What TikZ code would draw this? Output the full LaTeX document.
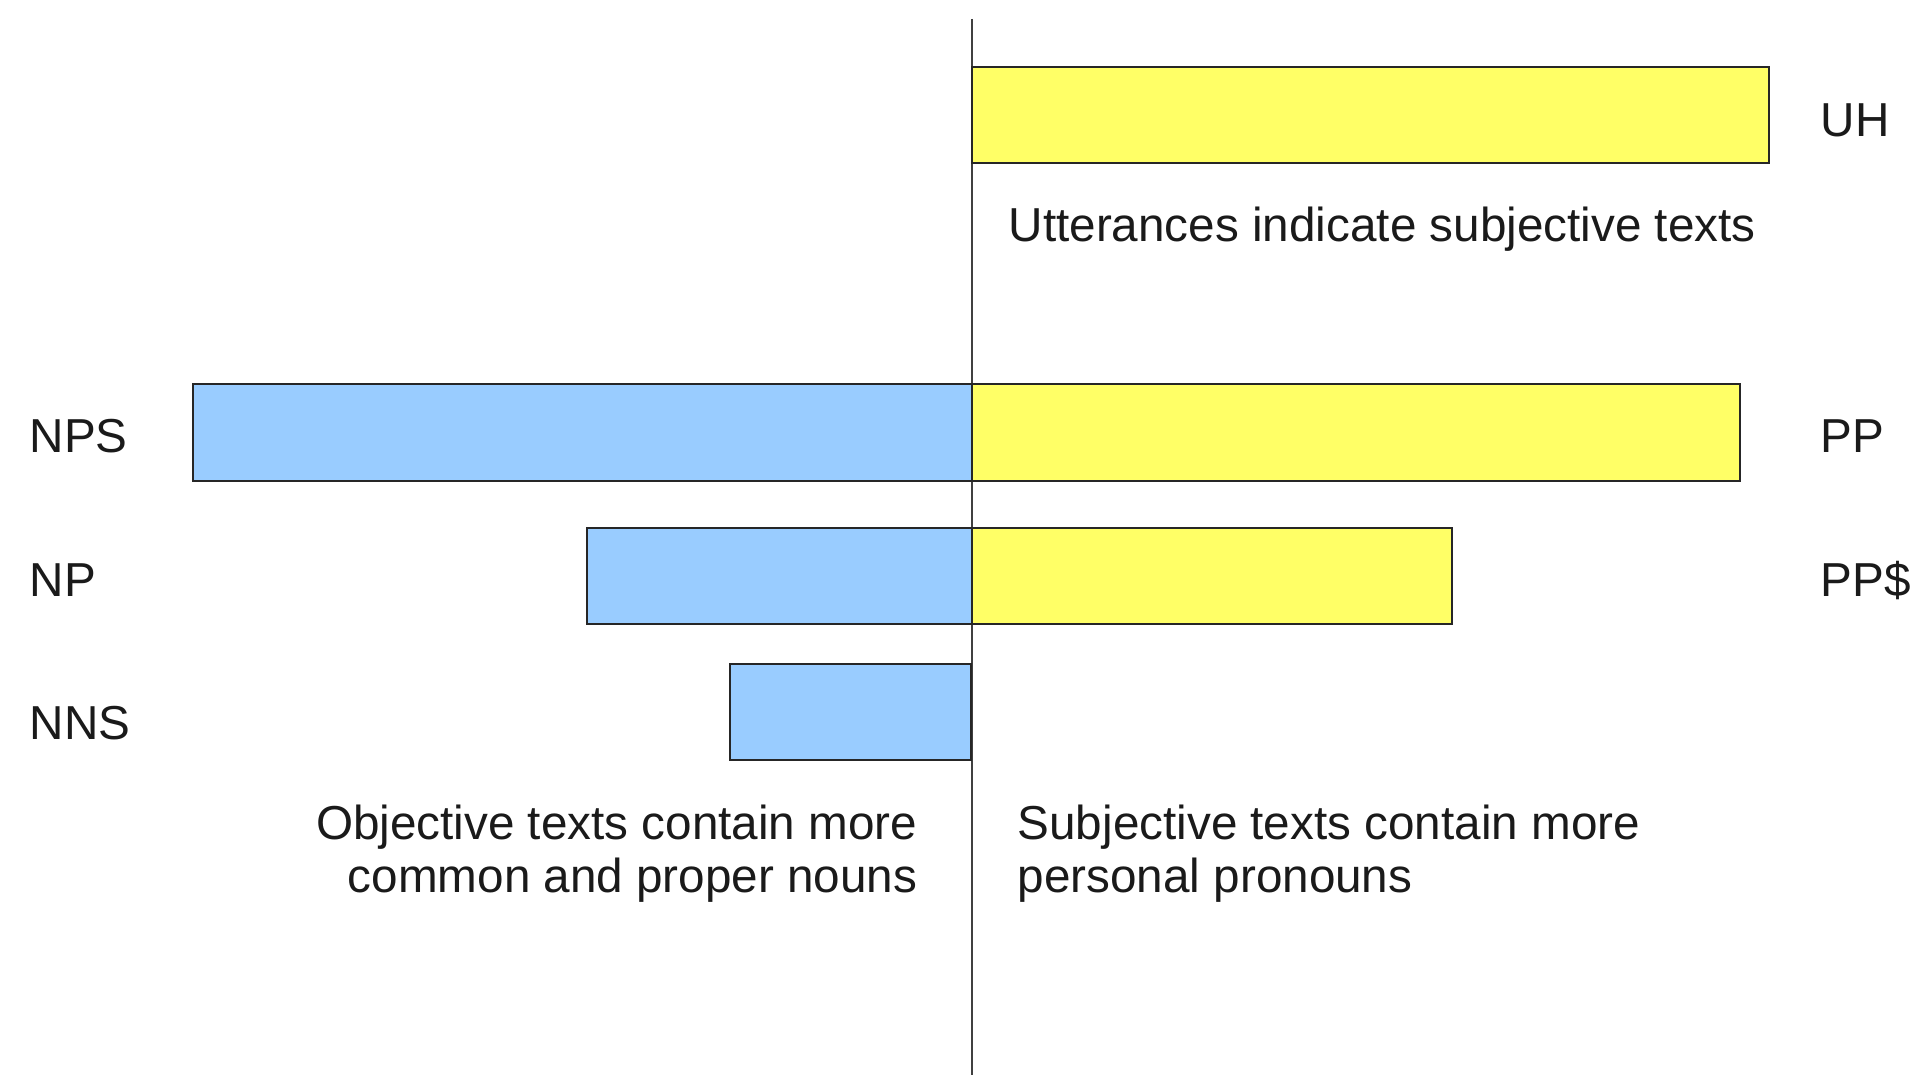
\documentclass[tikz,border=0pt]{standalone}
\usepackage{fontspec}
\setmainfont{Liberation Sans}
\usepackage{xcolor}
\usetikzlibrary{positioning}
\definecolor{nounblue}{RGB}{153,204,255}
\definecolor{pronyellow}{RGB}{255,255,102}
\definecolor{inkgrey}{RGB}{26,26,26}
\newcommand{\tagfont}{\fontsize{13.55}{14.9}\selectfont}
\tikzset{
  nounbar/.style={draw=black!85,fill=nounblue,line width=0.4pt},
  pronbar/.style={draw=black!85,fill=pronyellow,line width=0.4pt},
  taglabel/.style={inner sep=0pt,font=\tagfont,text=inkgrey,anchor=base west},
  notetext/.style={inner sep=0pt,font=\tagfont,text=inkgrey},
  axisline/.style={draw=black!75,line width=0.35pt}
}
\begin{document}
\begin{tikzpicture}[x=0.01cm,y=-0.01cm]
  \useasboundingbox (0,0) rectangle (1928,1080);
  \coordinate (axistop) at (972,19);
  \coordinate (axisbottom) at (972,1075);
  \draw[axisline] (axistop)--(axisbottom);
  % subjective side
  \draw[pronbar] (972,67) rectangle (1769,163);
  \draw[pronbar] (972,384) rectangle (1740,481);
  \draw[pronbar] (972,528) rectangle (1452,624);
  % objective side
  \draw[nounbar] (193,384) rectangle (972,481);
  \draw[nounbar] (587,528) rectangle (972,624);
  \draw[nounbar] (730,664) rectangle (971,760);
  \node[taglabel] (uh) at (1820,137) {UH};
  \node[taglabel] (pp) at (1820,453) {PP};
  \node[taglabel] (ppdollar) at (1820,597) {PP\$};
  \node[taglabel] (nps) at (29,453) {NPS};
  \node[taglabel] (np) at (29,597) {NP};
  \node[taglabel] (nns) at (29,740) {NNS};
  \node[notetext,anchor=base west] (utter) at (1008,242) {Utterances indicate subjective texts};
  % multi-line notes: base anchor sits on the last line
  \node[notetext,anchor=base east,align=right] (objnote) at (918,892) {Objective texts contain more\\common and proper nouns};
  \node[notetext,anchor=base west,align=left] (subjnote) at (1017,892) {Subjective texts contain more\\personal pronouns};
\end{tikzpicture}
\end{document}
